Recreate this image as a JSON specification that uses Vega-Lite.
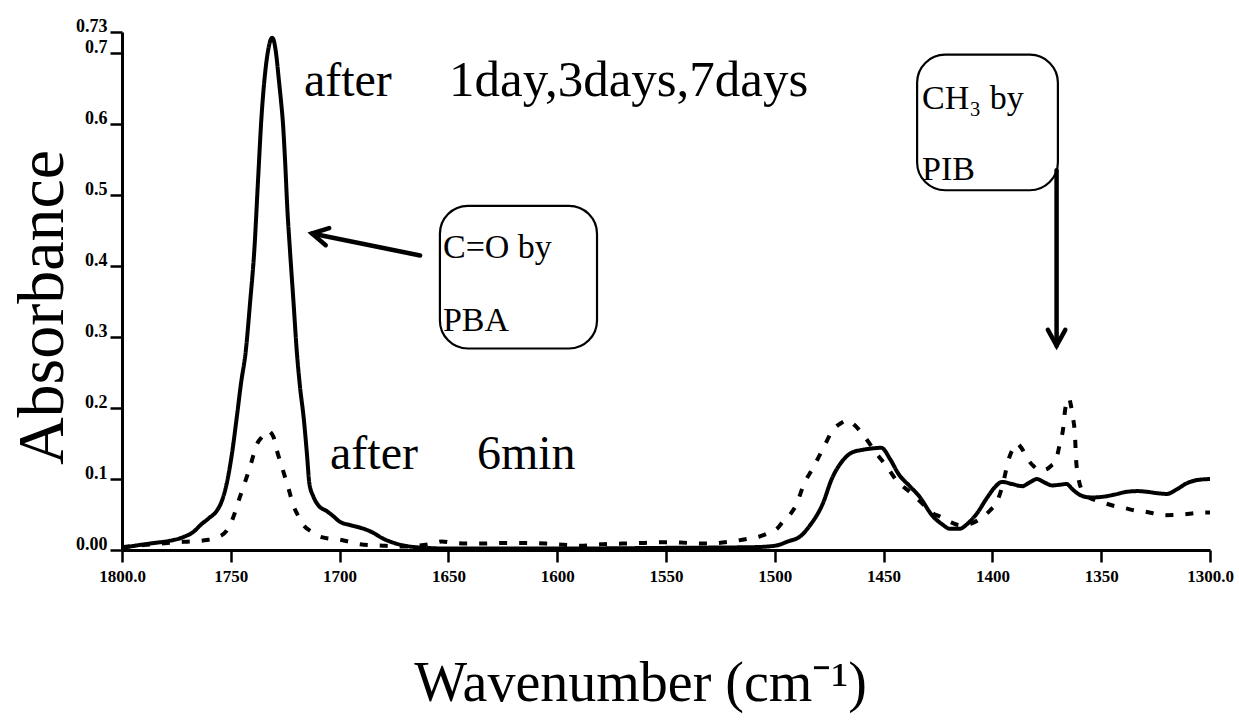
{
  "$schema": "https://vega.github.io/schema/vega-lite/v6.json",
  "width": 1088,
  "height": 518,
  "autosize": {"type": "none"},
  "padding": {"left": 122, "top": 32, "right": 29, "bottom": 175},
  "background": "white",
  "config": {
    "font": "Liberation Serif",
    "view": {"stroke": null},
    "axis": {
      "grid": false,
      "domainColor": "black",
      "domainWidth": 3,
      "tickColor": "black",
      "tickWidth": 2.5,
      "tickSize": 12,
      "labelColor": "black",
      "titleColor": "black",
      "labelFont": "Liberation Serif",
      "titleFont": "Liberation Serif",
      "labelFontWeight": "bold",
      "titleFontWeight": "normal"
    }
  },
  "datasets": {
    "spectra": [
      {"series": "1day,3days,7days", "wn": 1800, "abs": 0.003},
      {"series": "1day,3days,7days", "wn": 1792, "abs": 0.007},
      {"series": "1day,3days,7days", "wn": 1785, "abs": 0.010},
      {"series": "1day,3days,7days", "wn": 1778, "abs": 0.013},
      {"series": "1day,3days,7days", "wn": 1772, "abs": 0.018},
      {"series": "1day,3days,7days", "wn": 1767, "abs": 0.026},
      {"series": "1day,3days,7days", "wn": 1764, "abs": 0.035},
      {"series": "1day,3days,7days", "wn": 1760, "abs": 0.045},
      {"series": "1day,3days,7days", "wn": 1756.5, "abs": 0.055},
      {"series": "1day,3days,7days", "wn": 1754, "abs": 0.070},
      {"series": "1day,3days,7days", "wn": 1752, "abs": 0.092},
      {"series": "1day,3days,7days", "wn": 1749.5, "abs": 0.135},
      {"series": "1day,3days,7days", "wn": 1747.3, "abs": 0.186},
      {"series": "1day,3days,7days", "wn": 1745.3, "abs": 0.235},
      {"series": "1day,3days,7days", "wn": 1743.1, "abs": 0.281},
      {"series": "1day,3days,7days", "wn": 1741.1, "abs": 0.350},
      {"series": "1day,3days,7days", "wn": 1739.2, "abs": 0.422},
      {"series": "1day,3days,7days", "wn": 1737.5, "abs": 0.520},
      {"series": "1day,3days,7days", "wn": 1735.9, "abs": 0.610},
      {"series": "1day,3days,7days", "wn": 1734.3, "abs": 0.670},
      {"series": "1day,3days,7days", "wn": 1732.8, "abs": 0.705},
      {"series": "1day,3days,7days", "wn": 1731, "abs": 0.722},
      {"series": "1day,3days,7days", "wn": 1730, "abs": 0.715},
      {"series": "1day,3days,7days", "wn": 1729, "abs": 0.695},
      {"series": "1day,3days,7days", "wn": 1728, "abs": 0.665},
      {"series": "1day,3days,7days", "wn": 1727, "abs": 0.635},
      {"series": "1day,3days,7days", "wn": 1726, "abs": 0.600},
      {"series": "1day,3days,7days", "wn": 1725, "abs": 0.545},
      {"series": "1day,3days,7days", "wn": 1724, "abs": 0.480},
      {"series": "1day,3days,7days", "wn": 1722.8, "abs": 0.422},
      {"series": "1day,3days,7days", "wn": 1721.2, "abs": 0.350},
      {"series": "1day,3days,7days", "wn": 1719.7, "abs": 0.281},
      {"series": "1day,3days,7days", "wn": 1718.2, "abs": 0.230},
      {"series": "1day,3days,7days", "wn": 1716.5, "abs": 0.186},
      {"series": "1day,3days,7days", "wn": 1715, "abs": 0.135},
      {"series": "1day,3days,7days", "wn": 1713.9, "abs": 0.094},
      {"series": "1day,3days,7days", "wn": 1712, "abs": 0.075},
      {"series": "1day,3days,7days", "wn": 1709.5, "abs": 0.062},
      {"series": "1day,3days,7days", "wn": 1706, "abs": 0.055},
      {"series": "1day,3days,7days", "wn": 1703, "abs": 0.048},
      {"series": "1day,3days,7days", "wn": 1700, "abs": 0.040},
      {"series": "1day,3days,7days", "wn": 1695, "abs": 0.035},
      {"series": "1day,3days,7days", "wn": 1690, "abs": 0.031},
      {"series": "1day,3days,7days", "wn": 1685, "abs": 0.025},
      {"series": "1day,3days,7days", "wn": 1680, "abs": 0.016},
      {"series": "1day,3days,7days", "wn": 1675, "abs": 0.010},
      {"series": "1day,3days,7days", "wn": 1670, "abs": 0.006},
      {"series": "1day,3days,7days", "wn": 1660, "abs": 0.003},
      {"series": "1day,3days,7days", "wn": 1650, "abs": 0.002},
      {"series": "1day,3days,7days", "wn": 1600, "abs": 0.002},
      {"series": "1day,3days,7days", "wn": 1550, "abs": 0.003},
      {"series": "1day,3days,7days", "wn": 1510, "abs": 0.004},
      {"series": "1day,3days,7days", "wn": 1500, "abs": 0.006},
      {"series": "1day,3days,7days", "wn": 1494, "abs": 0.012},
      {"series": "1day,3days,7days", "wn": 1488, "abs": 0.020},
      {"series": "1day,3days,7days", "wn": 1484, "abs": 0.034},
      {"series": "1day,3days,7days", "wn": 1478, "abs": 0.065},
      {"series": "1day,3days,7days", "wn": 1473.7, "abs": 0.101},
      {"series": "1day,3days,7days", "wn": 1469.3, "abs": 0.124},
      {"series": "1day,3days,7days", "wn": 1464.8, "abs": 0.137},
      {"series": "1day,3days,7days", "wn": 1460, "abs": 0.141},
      {"series": "1day,3days,7days", "wn": 1455.7, "abs": 0.143},
      {"series": "1day,3days,7days", "wn": 1451, "abs": 0.144},
      {"series": "1day,3days,7days", "wn": 1447, "abs": 0.128},
      {"series": "1day,3days,7days", "wn": 1443.1, "abs": 0.107},
      {"series": "1day,3days,7days", "wn": 1438, "abs": 0.090},
      {"series": "1day,3days,7days", "wn": 1433.7, "abs": 0.076},
      {"series": "1day,3days,7days", "wn": 1427.5, "abs": 0.048},
      {"series": "1day,3days,7days", "wn": 1423, "abs": 0.036},
      {"series": "1day,3days,7days", "wn": 1419.6, "abs": 0.030},
      {"series": "1day,3days,7days", "wn": 1415, "abs": 0.030},
      {"series": "1day,3days,7days", "wn": 1411.8, "abs": 0.036},
      {"series": "1day,3days,7days", "wn": 1407, "abs": 0.052},
      {"series": "1day,3days,7days", "wn": 1402.8, "abs": 0.072},
      {"series": "1day,3days,7days", "wn": 1399, "abs": 0.088},
      {"series": "1day,3days,7days", "wn": 1395.6, "abs": 0.096},
      {"series": "1day,3days,7days", "wn": 1391, "abs": 0.093},
      {"series": "1day,3days,7days", "wn": 1386.3, "abs": 0.090},
      {"series": "1day,3days,7days", "wn": 1383, "abs": 0.095},
      {"series": "1day,3days,7days", "wn": 1379.5, "abs": 0.100},
      {"series": "1day,3days,7days", "wn": 1376, "abs": 0.095},
      {"series": "1day,3days,7days", "wn": 1372.5, "abs": 0.091},
      {"series": "1day,3days,7days", "wn": 1369, "abs": 0.092},
      {"series": "1day,3days,7days", "wn": 1366, "abs": 0.093},
      {"series": "1day,3days,7days", "wn": 1363, "abs": 0.085},
      {"series": "1day,3days,7days", "wn": 1360, "abs": 0.078},
      {"series": "1day,3days,7days", "wn": 1355, "abs": 0.074},
      {"series": "1day,3days,7days", "wn": 1349.3, "abs": 0.075},
      {"series": "1day,3days,7days", "wn": 1344, "abs": 0.078},
      {"series": "1day,3days,7days", "wn": 1338.3, "abs": 0.082},
      {"series": "1day,3days,7days", "wn": 1333, "abs": 0.083},
      {"series": "1day,3days,7days", "wn": 1329, "abs": 0.082},
      {"series": "1day,3days,7days", "wn": 1324, "abs": 0.080},
      {"series": "1day,3days,7days", "wn": 1319.9, "abs": 0.079},
      {"series": "1day,3days,7days", "wn": 1315, "abs": 0.086},
      {"series": "1day,3days,7days", "wn": 1310.7, "abs": 0.094},
      {"series": "1day,3days,7days", "wn": 1305, "abs": 0.099},
      {"series": "1day,3days,7days", "wn": 1300, "abs": 0.100},

      {"series": "6min", "wn": 1800, "abs": 0.004},
      {"series": "6min", "wn": 1790, "abs": 0.007},
      {"series": "6min", "wn": 1782, "abs": 0.009},
      {"series": "6min", "wn": 1775, "abs": 0.011},
      {"series": "6min", "wn": 1769, "abs": 0.012},
      {"series": "6min", "wn": 1761, "abs": 0.014},
      {"series": "6min", "wn": 1756, "abs": 0.018},
      {"series": "6min", "wn": 1752, "abs": 0.027},
      {"series": "6min", "wn": 1749, "abs": 0.045},
      {"series": "6min", "wn": 1746, "abs": 0.073},
      {"series": "6min", "wn": 1743, "abs": 0.100},
      {"series": "6min", "wn": 1740.5, "abs": 0.124},
      {"series": "6min", "wn": 1738.3, "abs": 0.147},
      {"series": "6min", "wn": 1735.5, "abs": 0.160},
      {"series": "6min", "wn": 1733, "abs": 0.168},
      {"series": "6min", "wn": 1730.5, "abs": 0.160},
      {"series": "6min", "wn": 1728.8, "abs": 0.140},
      {"series": "6min", "wn": 1726, "abs": 0.112},
      {"series": "6min", "wn": 1723.5, "abs": 0.087},
      {"series": "6min", "wn": 1721.4, "abs": 0.064},
      {"series": "6min", "wn": 1719, "abs": 0.048},
      {"series": "6min", "wn": 1716.8, "abs": 0.036},
      {"series": "6min", "wn": 1713, "abs": 0.026},
      {"series": "6min", "wn": 1710, "abs": 0.020},
      {"series": "6min", "wn": 1705, "abs": 0.016},
      {"series": "6min", "wn": 1700.7, "abs": 0.015},
      {"series": "6min", "wn": 1696, "abs": 0.012},
      {"series": "6min", "wn": 1690.6, "abs": 0.008},
      {"series": "6min", "wn": 1680, "abs": 0.006},
      {"series": "6min", "wn": 1670, "abs": 0.005},
      {"series": "6min", "wn": 1664, "abs": 0.006},
      {"series": "6min", "wn": 1657, "abs": 0.009},
      {"series": "6min", "wn": 1653, "abs": 0.012},
      {"series": "6min", "wn": 1648, "abs": 0.010},
      {"series": "6min", "wn": 1640, "abs": 0.009},
      {"series": "6min", "wn": 1634, "abs": 0.009},
      {"series": "6min", "wn": 1625, "abs": 0.010},
      {"series": "6min", "wn": 1615, "abs": 0.010},
      {"series": "6min", "wn": 1605, "abs": 0.009},
      {"series": "6min", "wn": 1595, "abs": 0.007},
      {"series": "6min", "wn": 1588, "abs": 0.006},
      {"series": "6min", "wn": 1580, "abs": 0.008},
      {"series": "6min", "wn": 1570, "abs": 0.009},
      {"series": "6min", "wn": 1560, "abs": 0.010},
      {"series": "6min", "wn": 1550, "abs": 0.011},
      {"series": "6min", "wn": 1540, "abs": 0.010},
      {"series": "6min", "wn": 1531, "abs": 0.009},
      {"series": "6min", "wn": 1520, "abs": 0.012},
      {"series": "6min", "wn": 1512, "abs": 0.016},
      {"series": "6min", "wn": 1507, "abs": 0.019},
      {"series": "6min", "wn": 1503.6, "abs": 0.023},
      {"series": "6min", "wn": 1499, "abs": 0.030},
      {"series": "6min", "wn": 1496, "abs": 0.041},
      {"series": "6min", "wn": 1492.5, "abs": 0.052},
      {"series": "6min", "wn": 1489.8, "abs": 0.066},
      {"series": "6min", "wn": 1487, "abs": 0.090},
      {"series": "6min", "wn": 1482.4, "abs": 0.116},
      {"series": "6min", "wn": 1477.8, "abs": 0.143},
      {"series": "6min", "wn": 1473.3, "abs": 0.169},
      {"series": "6min", "wn": 1469.5, "abs": 0.179},
      {"series": "6min", "wn": 1466.8, "abs": 0.183},
      {"series": "6min", "wn": 1463, "abs": 0.175},
      {"series": "6min", "wn": 1458.6, "abs": 0.159},
      {"series": "6min", "wn": 1453, "abs": 0.135},
      {"series": "6min", "wn": 1448.4, "abs": 0.117},
      {"series": "6min", "wn": 1443.8, "abs": 0.097},
      {"series": "6min", "wn": 1438, "abs": 0.082},
      {"series": "6min", "wn": 1433, "abs": 0.068},
      {"series": "6min", "wn": 1427.5, "abs": 0.052},
      {"series": "6min", "wn": 1424, "abs": 0.047},
      {"series": "6min", "wn": 1419, "abs": 0.039},
      {"series": "6min", "wn": 1414.9, "abs": 0.035},
      {"series": "6min", "wn": 1410, "abs": 0.037},
      {"series": "6min", "wn": 1405.7, "abs": 0.044},
      {"series": "6min", "wn": 1401, "abs": 0.056},
      {"series": "6min", "wn": 1397.9, "abs": 0.068},
      {"series": "6min", "wn": 1395, "abs": 0.095},
      {"series": "6min", "wn": 1392.8, "abs": 0.125},
      {"series": "6min", "wn": 1390.5, "abs": 0.143},
      {"series": "6min", "wn": 1388.7, "abs": 0.150},
      {"series": "6min", "wn": 1386.5, "abs": 0.143},
      {"series": "6min", "wn": 1384, "abs": 0.129},
      {"series": "6min", "wn": 1381, "abs": 0.118},
      {"series": "6min", "wn": 1378, "abs": 0.112},
      {"series": "6min", "wn": 1375, "abs": 0.114},
      {"series": "6min", "wn": 1372.5, "abs": 0.120},
      {"series": "6min", "wn": 1371.2, "abs": 0.123},
      {"series": "6min", "wn": 1369, "abs": 0.150},
      {"series": "6min", "wn": 1367.5, "abs": 0.171},
      {"series": "6min", "wn": 1366.6, "abs": 0.197},
      {"series": "6min", "wn": 1365.5, "abs": 0.210},
      {"series": "6min", "wn": 1364.8, "abs": 0.214},
      {"series": "6min", "wn": 1364, "abs": 0.205},
      {"series": "6min", "wn": 1363, "abs": 0.187},
      {"series": "6min", "wn": 1362, "abs": 0.159},
      {"series": "6min", "wn": 1361.6, "abs": 0.130},
      {"series": "6min", "wn": 1360.7, "abs": 0.106},
      {"series": "6min", "wn": 1358.4, "abs": 0.082},
      {"series": "6min", "wn": 1355, "abs": 0.073},
      {"series": "6min", "wn": 1352, "abs": 0.070},
      {"series": "6min", "wn": 1348.3, "abs": 0.066},
      {"series": "6min", "wn": 1344, "abs": 0.062},
      {"series": "6min", "wn": 1339, "abs": 0.059},
      {"series": "6min", "wn": 1335, "abs": 0.056},
      {"series": "6min", "wn": 1329.9, "abs": 0.054},
      {"series": "6min", "wn": 1325, "abs": 0.051},
      {"series": "6min", "wn": 1321.6, "abs": 0.049},
      {"series": "6min", "wn": 1312.4, "abs": 0.050},
      {"series": "6min", "wn": 1307, "abs": 0.052},
      {"series": "6min", "wn": 1303.2, "abs": 0.053},
      {"series": "6min", "wn": 1300, "abs": 0.053}
    ],
    "labels": [
      {"kind": "big", "text": "after", "wn": 1716.4, "abs": 0.64},
      {"kind": "wide", "text": "1day,3days,7days", "wn": 1649.7, "abs": 0.64},
      {"kind": "big", "text": "after", "wn": 1704.4, "abs": 0.114},
      {"kind": "big", "text": "6min", "wn": 1636.9, "abs": 0.114},
      {"kind": "box", "text": "C=O by", "wn": 1652.5, "abs": 0.412},
      {"kind": "box", "text": "PBA", "wn": 1652.5, "abs": 0.309},
      {"kind": "box", "text": "CH₃ by", "wn": 1432.3, "abs": 0.622},
      {"kind": "box", "text": "PIB", "wn": 1432.3, "abs": 0.521}
    ],
    "boxes": [
      {"note": "C=O", "wn": 1653.9, "wn2": 1581.7, "abs": 0.485, "abs2": 0.284},
      {"note": "CH3", "wn": 1434.6, "wn2": 1369.9, "abs": 0.698, "abs2": 0.507}
    ],
    "arrows": [
      {"note": "C=O", "wn": 1712.7, "abs": 0.446, "wn2": 1663, "abs2": 0.415},
      {"note": "CH3", "wn": 1370.5, "abs": 0.288, "wn2": 1370.5, "abs2": 0.535}
    ]
  },
  "encoding": {
    "x": {
      "field": "wn",
      "type": "quantitative",
      "scale": {"domain": [1300, 1800], "reverse": true, "nice": false, "zero": false},
      "axis": {
        "title": "Wavenumber (cm⁻¹)",
        "values": [1800, 1750, 1700, 1650, 1600, 1550, 1500, 1450, 1400, 1350, 1300],
        "labelExpr": "datum.value == 1800 ? '1800.0' : datum.value == 1300 ? '1300.0' : format(datum.value, 'd')",
        "labelFontSize": 17,
        "labelPadding": 6,
        "labelFlush": false,
        "labelOverlap": false,
        "titleFontSize": 56,
        "titleX": 518,
        "titleY": 150,
        "titleAlign": "center",
        "titleBaseline": "alphabetic"
      }
    },
    "y": {
      "field": "abs",
      "type": "quantitative",
      "scale": {"domain": [0, 0.73], "nice": false, "zero": false},
      "axis": {
        "title": "Absorbance",
        "values": [0, 0.1, 0.2, 0.3, 0.4, 0.5, 0.6, 0.7, 0.73],
        "labelExpr": "datum.value == 0 ? '0.00' : datum.value > 0.72 ? '0.73' : format(datum.value, '.1f')",
        "labelFontSize": 18,
        "labelPadding": 3,
        "labelOffset": -6,
        "labelOverlap": false,
        "labelFlush": false,
        "titleFontSize": 66,
        "titleAngle": 270,
        "titleX": -60,
        "titleY": 275,
        "titleAlign": "center",
        "titleBaseline": "alphabetic"
      }
    }
  },
  "layer": [
    {
      "data": {"name": "spectra"},
      "mark": {"type": "line", "color": "black", "strokeWidth": 4, "strokeCap": "butt", "strokeJoin": "round", "interpolate": "monotone"},
      "encoding": {
        "detail": {"field": "series"},
        "strokeDash": {
          "field": "series",
          "type": "nominal",
          "scale": {"domain": ["1day,3days,7days", "6min"], "range": [[1, 0], [8, 12]]},
          "legend": null
        }
      }
    },
    {
      "data": {"name": "boxes"},
      "mark": {"type": "rect", "filled": false, "stroke": "black", "strokeWidth": 2.2, "cornerRadius": 28},
      "encoding": {
        "x2": {"field": "wn2"},
        "y2": {"field": "abs2"}
      }
    },
    {
      "data": {"name": "labels"},
      "transform": [{"filter": "datum.kind === 'big'"}],
      "mark": {"type": "text", "align": "left", "baseline": "alphabetic", "fontSize": 48, "font": "Liberation Serif", "color": "black"},
      "encoding": {"text": {"field": "text"}}
    },
    {
      "data": {"name": "labels"},
      "transform": [{"filter": "datum.kind === 'wide'"}],
      "mark": {"type": "text", "align": "left", "baseline": "alphabetic", "fontSize": 51, "font": "Liberation Serif", "color": "black"},
      "encoding": {"text": {"field": "text"}}
    },
    {
      "data": {"name": "labels"},
      "transform": [{"filter": "datum.kind === 'box'"}],
      "mark": {"type": "text", "align": "left", "baseline": "alphabetic", "fontSize": 34, "font": "Liberation Serif", "color": "black"},
      "encoding": {"text": {"field": "text"}}
    },
    {
      "data": {"name": "arrows"},
      "mark": {"type": "rule", "color": "black", "strokeWidth": 4.5, "strokeCap": "round"},
      "encoding": {
        "x2": {"field": "wn2"},
        "y2": {"field": "abs2"}
      }
    },
    {
      "data": {"name": "arrows"},
      "transform": [{"filter": "datum.note === 'C=O'"}],
      "mark": {"type": "point", "shape": "M -0.55 1 L 0 0 L 0.55 1", "filled": false, "stroke": "black", "strokeWidth": 4.5, "strokeJoin": "miter", "strokeCap": "round", "size": 1000, "angle": 281.5, "opacity": 1}
    },
    {
      "data": {"name": "arrows"},
      "transform": [{"filter": "datum.note === 'CH3'"}],
      "mark": {"type": "point", "shape": "M -0.55 1 L 0 0 L 0.55 1", "filled": false, "stroke": "black", "strokeWidth": 4.5, "strokeJoin": "miter", "strokeCap": "round", "size": 1000, "angle": 180, "opacity": 1}
    }
  ]
}
